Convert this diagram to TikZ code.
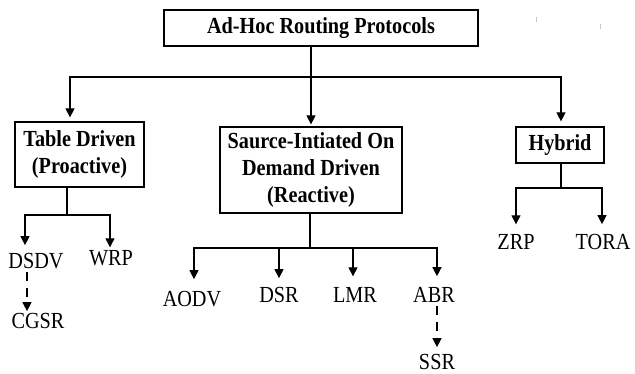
\documentclass[tikz,border=0pt]{standalone}
\usepackage{fontspec}
\setmainfont[FakeStretch=0.88]{Liberation Serif}
\usetikzlibrary{arrows.meta}
\begin{document}
\begin{tikzpicture}[x=1pt,y=-1pt,
  line width=1.2pt,
  arr/.style={-{Triangle[width=9pt,length=9pt]}},
  box/.style={draw,align=center,inner sep=0pt,font=\bfseries\fontsize{23}{27}\selectfont},
  leaf/.style={anchor=base,inner sep=0pt,font=\fontsize{23}{27}\selectfont},
  dsh/.style={dash pattern=on 9pt off 7pt},
  tick/.style={draw=gray!45,line width=1pt}]
\useasboundingbox[fill=white] (0,0) rectangle (635,374);
% boxes
\node[box,minimum width=314pt,minimum height=36pt] (top) at (321,28) {Ad-Hoc Routing Protocols};
\node[box,minimum width=129pt,minimum height=65pt] (tbl) at (79.5,154.5) {Table Driven\\(Proactive)};
\node[box,minimum width=182pt,minimum height=86pt] (mid) at (311,170) {Saurce-Intiated On\\Demand Driven\\(Reactive)};
\node[box,minimum width=88pt,minimum height=36pt] (hyb) at (560,145) {Hybrid};
% leaves
\node[leaf] (dsdv) at (36,269) {DSDV};
\node[leaf] (wrp) at (111,266) {WRP};
\node[leaf] (cgsr) at (38,328) {CGSR};
\node[leaf] (aodv) at (192,306) {AODV};
\node[leaf] (dsr) at (279,303) {DSR};
\node[leaf] (lmr) at (355,302) {LMR};
\node[leaf] (abr) at (434,302) {ABR};
\node[leaf] (ssr) at (437,370) {SSR};
\node[leaf] (zrp) at (516,250) {ZRP};
\node[leaf] (tora) at (603,250) {TORA};
% level 1
\coordinate (j0) at (311,77);
\draw (top.south -| j0) -- (j0);
\draw[arr,shorten >=4pt] (j0) -| ([xshift=-9.5pt]tbl.north);
\draw[arr,shorten >=2pt] (j0) -- (mid.north);
\draw[arr,shorten >=5pt] (j0) -| ([xshift=1pt]hyb.north);
% table driven
\coordinate (j1) at (67,215);
\draw (tbl.south -| j1) -- (j1);
\draw[arr] (j1) -| ([xshift=-11pt,yshift=8pt]dsdv.north);
\draw[arr] (j1) -| ([xshift=-1pt,yshift=3pt]wrp.north);
\draw[arr,dsh] ([xshift=-9pt,yshift=-2pt]dsdv.south) -- ([xshift=-11pt,yshift=1pt]cgsr.north);
% reactive
\coordinate (j2) at (310,248);
\draw (mid.south -| j2) -- (j2);
\draw[arr] (j2) -| ([xshift=2pt,yshift=11pt]aodv.north);
\draw[arr] (j2) -| ([yshift=9pt]dsr.north);
\draw[arr] (j2) -| ([xshift=-2pt,yshift=10pt]lmr.north);
\draw[arr] (j2) -| ([xshift=3pt,yshift=10pt]abr.north);
\draw[arr,dsh] ([xshift=3pt,yshift=-3pt]abr.south) -- ([yshift=7pt]ssr.north);
% hybrid
\coordinate (j3) at (561,188);
\draw (hyb.south -| j3) -- (j3);
\draw[arr] (j3) -| ([yshift=10pt]zrp.north);
\draw[arr] (j3) -| ([xshift=-1pt,yshift=10pt]tora.north);
% stray marks
\draw[tick] (536,17) -- (536,22);
\draw[tick] (600,24) -- (600,29);
\end{tikzpicture}
\end{document}
